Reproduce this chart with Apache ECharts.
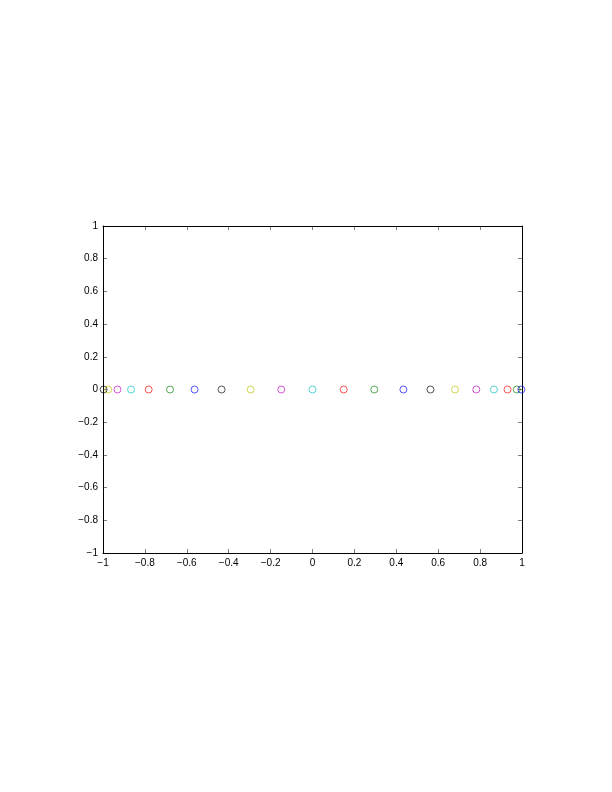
<!DOCTYPE html>
<html><head><meta charset="utf-8">
<script src="https://cdn.jsdelivr.net/npm/echarts@6/dist/echarts.min.js"></script>
<style>html,body{margin:0;padding:0;background:#fff}#c{width:612px;height:792px}</style>
</head><body><div id="c"></div>
<script>
const xValues = [-0.997, -0.975, -0.931, -0.866, -0.782, -0.680, -0.563, -0.434, -0.295, -0.149, 0.000, 0.149, 0.295, 0.434, 0.563, 0.680, 0.782, 0.866, 0.931, 0.975, 0.997];
const yValues = [0,0,0,0,0,0,0,0,0,0,0,0,0,0,0,0,0,0,0,0,0];
const pointColors = ['#000000','#BFBF00','#BF00BF','#00BFBF','#FF0000','#008000','#0000FF','#000000','#BFBF00','#BF00BF','#00BFBF','#FF0000','#008000','#0000FF','#000000','#BFBF00','#BF00BF','#00BFBF','#FF0000','#008000','#0000FF'];
const tickLabelFmt = v => (v < 0 ? '\u2212' + String(Math.abs(Math.round(v*10)/10)) : String(Math.round(v*10)/10));

const chart = echarts.init(document.getElementById('c'), null, {renderer:'canvas'});
const axisCommon = {
  min: -1, max: 1, interval: 0.2,
  axisLine: {show: true, onZero: false, lineStyle: {color: '#000', width: 1}},
  axisTick: {show: true, inside: true, length: 4, lineStyle: {color: '#000', width: 0.5}},
  splitLine: {show: false}
};
const series = xValues.map((x, i) => ({
  type: 'scatter',
  data: [[x, yValues[i]]],
  symbol: 'circle',
  symbolSize: 7,
  xAxisIndex: 0, yAxisIndex: 0,
  itemStyle: {color: 'rgba(255,255,255,0)', borderColor: pointColors[i], borderWidth: 0.8, opacity: 0.85},
  emphasis: {disabled: true},
  z: 3
}));
chart.setOption({
  animation: false,
  grid: {left: 103, top: 226, right: 90, bottom: 239, containLabel: false},
  xAxis: [
    Object.assign({type: 'value', position: 'bottom',
      axisLabel: {show: true, color: '#000', fontSize: 10, fontFamily: 'Liberation Sans', margin: 5, formatter: tickLabelFmt}}, axisCommon),
    Object.assign({type: 'value', position: 'top', axisLabel: {show: false}}, axisCommon)
  ],
  yAxis: [
    Object.assign({type: 'value', position: 'left',
      axisLabel: {show: true, color: '#000', fontSize: 10, fontFamily: 'Liberation Sans', margin: 5, formatter: tickLabelFmt}}, axisCommon),
    Object.assign({type: 'value', position: 'right', axisLabel: {show: false}}, axisCommon)
  ],
  series: series
});
</script></body></html>
